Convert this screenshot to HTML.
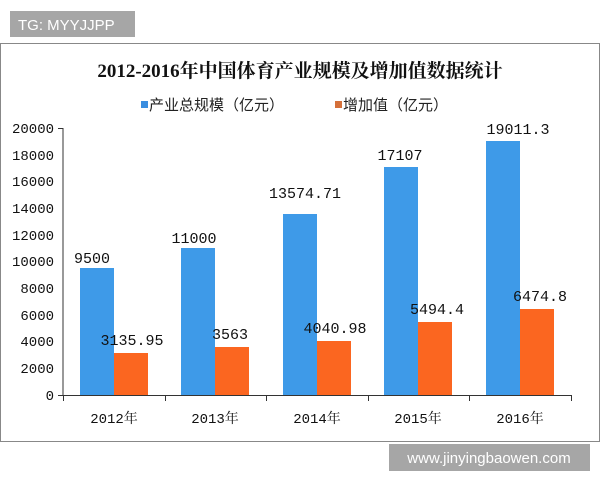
<!DOCTYPE html>
<html><head><meta charset="utf-8"><style>
body{margin:0;background:#fff;width:600px;height:480px;overflow:hidden}
svg{display:block}
</style></head><body>
<svg width="600" height="480" xmlns="http://www.w3.org/2000/svg" font-family="'Liberation Mono','Noto Serif CJK SC',monospace">
<rect x="10" y="11" width="125" height="26" fill="#a6a6a6"/>
<text x="18" y="30" font-family="'Liberation Sans',sans-serif" font-size="15" fill="#fff">TG: MYYJJPP</text>
<rect x="0.5" y="43.5" width="599" height="398" fill="#fff" stroke="#888" stroke-width="1"/>
<text x="300" y="77" text-anchor="middle" font-size="19" font-weight="bold" fill="#111" font-family="'Liberation Serif','Noto Serif CJK SC',serif">2012-2016年中国体育产业规模及增加值数据统计</text>
<rect x="141" y="101" width="7" height="7" fill="#3a8ee0"/>
<text x="149" y="110" font-size="15" fill="#222" font-family="'Liberation Sans','Noto Sans CJK SC',sans-serif">产业总规模（亿元）</text>
<rect x="335" y="101" width="7" height="7" fill="#d5703a"/>
<text x="343" y="110" font-size="15" fill="#222" font-family="'Liberation Sans','Noto Sans CJK SC',sans-serif">增加值（亿元）</text>
<g font-size="14" fill="#111" text-anchor="end">
<text x="54" y="133">20000</text><text x="54" y="160">18000</text><text x="54" y="186">16000</text><text x="54" y="213">14000</text><text x="54" y="240">12000</text><text x="54" y="266">10000</text><text x="54" y="293">8000</text><text x="54" y="320">6000</text><text x="54" y="346">4000</text><text x="54" y="373">2000</text><text x="54" y="400">0</text>
</g>
<path d="M58 128.5H63M58 395.5H571M63 128V395" stroke="#333" stroke-width="1"/>
<path d="M63.5 395V401M165.5 395V401M266.5 395V401M368.5 395V401M469.5 395V401M571.5 395V401" stroke="#333"/>
<g fill="#3e9ae8">
<rect x="80" y="268" width="34" height="127"/>
<rect x="181" y="248" width="34" height="147"/>
<rect x="283" y="214" width="34" height="181"/>
<rect x="384" y="167" width="34" height="228"/>
<rect x="486" y="141" width="34" height="254"/>
</g>
<g fill="#fb6620">
<rect x="114" y="353" width="34" height="42"/>
<rect x="215" y="347" width="34" height="48"/>
<rect x="317" y="341" width="34" height="54"/>
<rect x="418" y="322" width="34" height="73"/>
<rect x="520" y="309" width="34" height="86"/>
</g>
<g font-size="15" fill="#111" text-anchor="middle">
<text x="92" y="263">9500</text>
<text x="194" y="243">11000</text>
<text x="305" y="198">13574.71</text>
<text x="400" y="160">17107</text>
<text x="518" y="134">19011.3</text>
<text x="132" y="345">3135.95</text>
<text x="230" y="339">3563</text>
<text x="335" y="333">4040.98</text>
<text x="437" y="314">5494.4</text>
<text x="540" y="301">6474.8</text>
</g>
<g font-size="14" fill="#111" text-anchor="middle">
<text x="114" y="423">2012年</text><text x="215" y="423">2013年</text><text x="317" y="423">2014年</text><text x="418" y="423">2015年</text><text x="520" y="423">2016年</text>
</g>
<rect x="389" y="444" width="201" height="27" fill="#a6a6a6"/>
<text x="489" y="463" text-anchor="middle" font-family="'Liberation Sans',sans-serif" font-size="15" fill="#fff">www.jinyingbaowen.com</text>
</svg>
</body></html>
